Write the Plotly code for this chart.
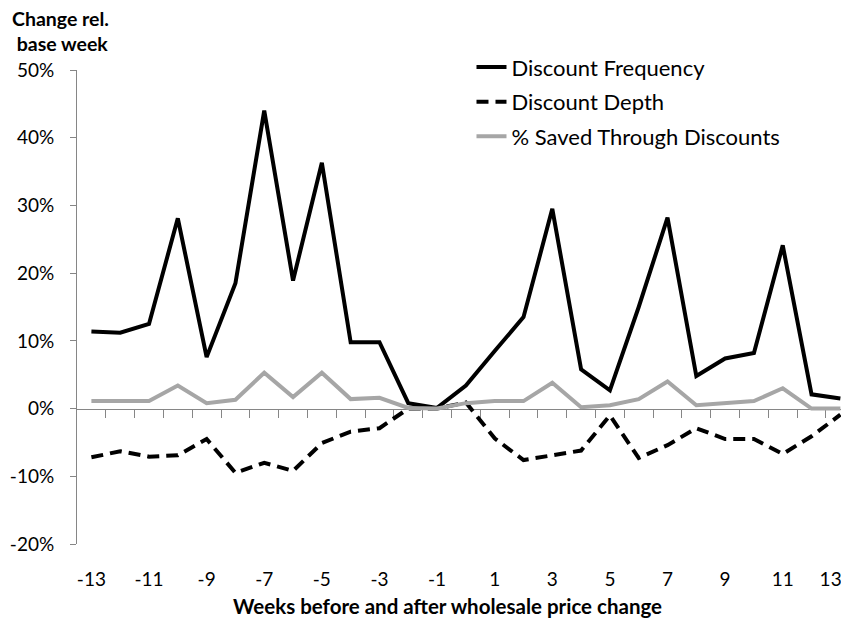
import plotly.graph_objects as go

weeks = list(range(-13, 14))
freq = [11.4, 11.2, 12.5, 28.1, 7.6, 18.5, 44.0, 18.9, 36.3, 9.8, 9.8, 0.8, 0.1,
        3.4, 8.5, 13.5, 29.5, 5.8, 2.7, 15.0, 28.2, 4.8, 7.4, 8.2, 24.1, 2.1, 1.5]
depth = [-7.2, -6.3, -7.1, -6.9, -4.5, -9.5, -8.0, -9.2, -5.1, -3.4, -2.9, 0.0, 0.0,
         0.9, -4.4, -7.6, -6.9, -6.2, -1.0, -7.3, -5.4, -2.9, -4.5, -4.5, -6.7, -4.1, -0.9]
saved = [1.1, 1.1, 1.1, 3.4, 0.8, 1.3, 5.3, 1.7, 5.3, 1.4, 1.6, 0.1, 0.0,
         0.8, 1.1, 1.1, 3.8, 0.2, 0.5, 1.4, 4.0, 0.5, 0.8, 1.1, 3.0, 0.0, 0.0]
tick_vals = [w for w in weeks if w % 2 != 0]
tick_labels = [str(w) for w in tick_vals]
# the last label sits flush with the right edge, as in the original
tick_labels[-1] = tick_labels[-1] + "\u00a0" * 4
between_ticks = [w + 0.5 for w in weeks[:-1]]
y_tick_vals = [-0.2, -0.1, 0.0, 0.1, 0.2, 0.3, 0.4, 0.5]
y_tick_labels = ["-20%", "-10%", "0%", "10%", "20%", "30%", "40%", "50%"]

FONT = "Lato"
GRAY_AXIS = "#868686"

# the page body has an 8px margin, so the figure is drawn 8px smaller
W, H = 841, 615
ML, MT, MB = 69, 62, 79
PW, PH = W - ML, H - MT - MB

fig = go.Figure()
fig.add_trace(go.Scatter(x=weeks, y=[v / 100 for v in freq], mode="lines",
                         name="Discount Frequency", legendgroup="a",
                         line=dict(color="black", width=4)))
fig.add_trace(go.Scatter(x=weeks, y=[v / 100 for v in depth], mode="lines",
                         name="Discount Depth", legendgroup="b",
                         line=dict(color="black", width=4, dash="12px,7px")))
fig.add_trace(go.Scatter(x=weeks, y=[v / 100 for v in saved], mode="lines",
                         name="% Saved Through Discounts", legendgroup="c",
                         line=dict(color="#a6a6a6", width=4)))
# invisible helper trace so the zero-line axis is drawn
fig.add_trace(go.Scatter(x=weeks, y=[v / 100 for v in saved], mode="lines",
                         xaxis="x2", showlegend=False, hoverinfo="skip",
                         line=dict(color="rgba(0,0,0,0)", width=0)))

fig.update_layout(
    width=W, height=H,
    margin=dict(l=ML, r=0, t=MT, b=MB, autoexpand=False),
    paper_bgcolor="white", plot_bgcolor="white",
    font=dict(family=FONT, size=19, color="black"),
    showlegend=True,
    legend=dict(x=0.511, y=1.05, xanchor="left", yanchor="top",
                bgcolor="rgba(0,0,0,0)", tracegroupgap=3,
                font=dict(family=FONT, size=22, color="black")),
    xaxis=dict(range=[-13.5, 13.3], tickmode="array", tickvals=tick_vals,
               ticktext=tick_labels, showgrid=False, zeroline=False,
               showline=False, ticks="", ticklabelstandoff=22, automargin=False,
               ticklabeloverflow="allow",
               tickfont=dict(family=FONT, size=19, color="black")),
    xaxis2=dict(range=[-13.5, 13.3], overlaying="x", anchor="free", position=2 / 7,
                side="bottom", tickmode="array", tickvals=between_ticks,
                showticklabels=False, ticks="outside", ticklen=8, tickwidth=1,
                tickcolor=GRAY_AXIS, showline=True, linecolor=GRAY_AXIS, automargin=False,
                linewidth=1, showgrid=False, zeroline=False, layer="below traces"),
    yaxis=dict(range=[-0.2, 0.5], tickmode="array", tickvals=y_tick_vals,
               ticktext=y_tick_labels,
               showgrid=False, zeroline=False, showline=True, linecolor=GRAY_AXIS,
               linewidth=1, ticks="outside", ticklen=6, tickcolor=GRAY_AXIS,
               ticklabelstandoff=12, automargin=False, ticklabeloverflow="allow",
               tickfont=dict(family=FONT, size=19, color="black")),
    annotations=[
        dict(text="<b>Change rel.</b><br><b>&nbsp;base week</b>", xref="paper", yref="paper",
             x=-ML / PW, y=1 + MT / PH, xanchor="left", yanchor="top", align="left",
             showarrow=False, font=dict(family=FONT, size=19.5, color="black"),
             xshift=2, yshift=3),
        dict(text="<b>Weeks before and after wholesale price change</b>", xref="paper",
             yref="paper", x=(439 - ML) / PW, y=-(598 - (MT + PH)) / PH,
             xanchor="center", yanchor="middle", showarrow=False,
             font=dict(family=FONT, size=20.5, color="black")),
    ],
)

fig.write_html("out.html")
